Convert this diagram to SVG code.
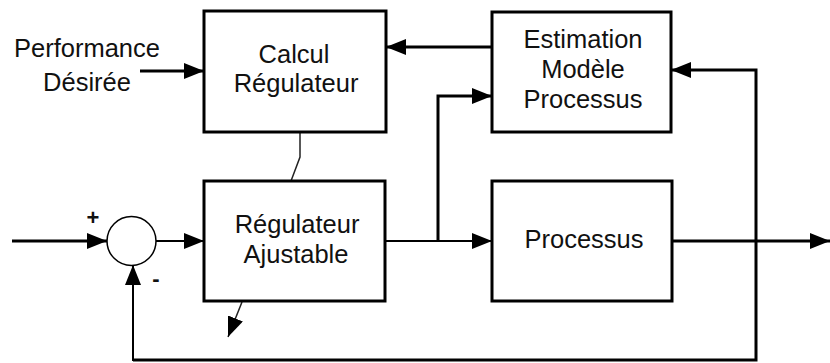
<svg xmlns="http://www.w3.org/2000/svg" width="830" height="363" viewBox="0 0 830 363">
<defs>
<marker id="ah" viewBox="0 0 20 16" refX="20" refY="8" markerWidth="20" markerHeight="16" markerUnits="userSpaceOnUse" orient="auto">
<path d="M0,0 L20,8 L0,16 Z" fill="#000"/>
</marker>
</defs>
<style>
.box{fill:#fff;stroke:#000;stroke-width:3}
.t{font-family:"Liberation Sans",Arial,sans-serif;font-size:25.5px;fill:#111;text-anchor:middle}
.s{font-family:"Liberation Sans",Arial,sans-serif;font-size:22px;font-weight:bold;fill:#111;text-anchor:middle}
.thick{fill:none;stroke:#000;stroke-width:3}
.thin{fill:none;stroke:#000;stroke-width:2}
.hair{fill:none;stroke:#222;stroke-width:1.5}
</style>
<rect width="830" height="363" fill="#fff"/>
<g id="connectors">
<line class="thick" x1="140" y1="71" x2="204" y2="71" marker-end="url(#ah)"/>
<line class="thick" x1="492" y1="47" x2="386" y2="47" marker-end="url(#ah)"/>
<line class="thick" x1="12" y1="241" x2="107" y2="241" marker-end="url(#ah)"/>
<line class="thin" x1="156" y1="241" x2="204" y2="241" marker-end="url(#ah)"/>
<line class="thin" x1="385" y1="241" x2="492" y2="241" marker-end="url(#ah)"/>
<polyline class="thick" points="438,241 438,96 492,96" marker-end="url(#ah)"/>
<line class="thick" x1="672" y1="241" x2="830" y2="241" marker-end="url(#ah)"/>
<polyline class="thick" points="133,360 756,360 756,70 671,70" marker-end="url(#ah)"/>
<line class="thin" x1="133" y1="361" x2="133" y2="265" marker-end="url(#ah)"/>
<polyline class="hair" points="300,132 300,157 291,181"/>
<line class="hair" x1="242" y1="302" x2="228" y2="337" marker-end="url(#ah)"/>
</g>
<g id="sum">
<circle cx="131.5" cy="241" r="24.5" fill="#fff" stroke="#000" stroke-width="1.5"/>
<text class="s" x="93" y="225">+</text>
<text class="s" x="156" y="286">-</text>
</g>
<g id="performance">
<text class="t" x="87" y="57">Performance</text>
<text class="t" x="87" y="91">Désirée</text>
</g>
<g id="calcul">
<rect class="box" x="204" y="11" width="182" height="121"/>
<text class="t" x="294" y="63">Calcul</text>
<text class="t" x="296" y="92">Régulateur</text>
</g>
<g id="estimation">
<rect class="box" x="492" y="12" width="179" height="120"/>
<text class="t" x="583" y="48">Estimation</text>
<text class="t" x="583" y="78">Modèle</text>
<text class="t" x="583" y="108">Processus</text>
</g>
<g id="regulateur">
<rect class="box" x="204" y="181" width="181" height="120"/>
<text class="t" x="297" y="233">Régulateur</text>
<text class="t" x="296" y="263">Ajustable</text>
</g>
<g id="processus">
<rect class="box" x="492" y="181" width="180" height="120"/>
<text class="t" x="584" y="248">Processus</text>
</g>
</svg>
